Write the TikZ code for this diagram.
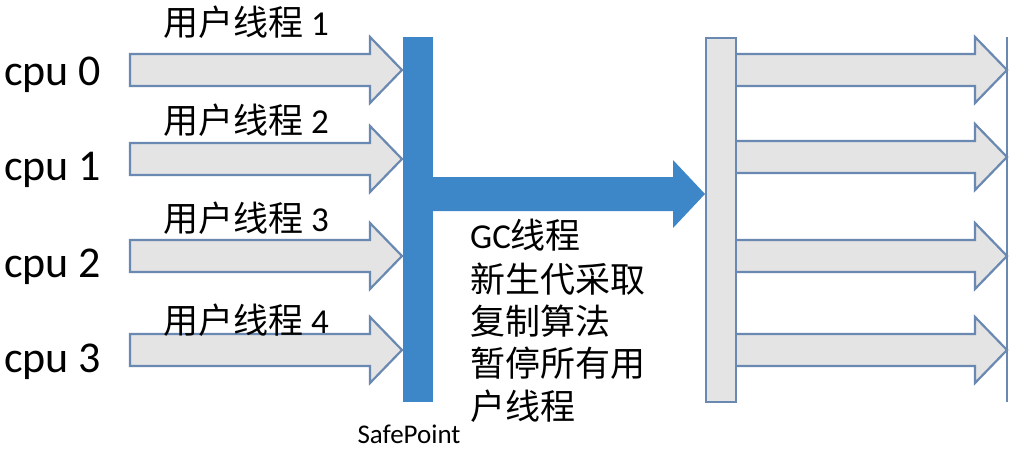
\documentclass[tikz,border=0pt]{standalone}
\usepackage{fontspec}
\setmainfont{Carlito}
\newfontfamily\cjk{Noto Sans CJK SC}
\definecolor{sblue}{RGB}{61,134,200}
\definecolor{agray}{RGB}{228,228,228}
\definecolor{aedge}{RGB}{105,136,178}
\tikzset{
  grayarrow/.style={fill=agray,draw=aedge,line width=2.2pt,line join=miter},
  bluefill/.style={fill=sblue,draw=none},
  cpulabel/.style={anchor=west,inner sep=0pt,font=\fontsize{44}{50}\selectfont},
  thrlabel/.style={anchor=base west,inner sep=0pt,font=\fontsize{35}{40}\selectfont},
  gctext/.style={anchor=base west,inner sep=0pt,font=\fontsize{35}{40}\selectfont\cjk},
}
\begin{document}
\begin{tikzpicture}[x=1pt,y=-1pt]
\useasboundingbox (0,0) rectangle (1025,448);
% left gray arrows
\foreach \y in {70,159,256,350}{
  \draw[grayarrow] (130,\y-16) -- (370,\y-16) -- (370,\y-33) -- (402,\y) -- (370,\y+33) -- (370,\y+16) -- (130,\y+16) -- cycle;
}
% right gray arrows
\foreach \y in {70,157,256,350}{
  \draw[grayarrow] (735,\y-16) -- (975,\y-16) -- (975,\y-33) -- (1007,\y) -- (975,\y+33) -- (975,\y+16) -- (735,\y+16) -- cycle;
}
% safepoint bar
\node[bluefill,minimum width=30pt,minimum height=365pt,inner sep=0pt,anchor=north west] (sp) at (403,37) {};
% right bar
\node[fill=agray,draw=aedge,line width=2.2pt,minimum width=30pt,minimum height=364pt,inner sep=0pt,anchor=north west] (rb) at (705,37) {};
% end line
\coordinate (lt) at (1007,37);
\coordinate (lb) at (1007,402);
\draw[aedge,line width=1.2pt] (lt) -- (lb);
% big blue arrow
\fill[sblue] (433,177) -- (673,177) -- (673,160) -- (705,194) -- (673,228) -- (673,211) -- (433,211) -- cycle;
% cpu labels
\node[cpulabel] (c0) at (4,75) {cpu 0};
\node[cpulabel] (c1) at (4,170) {cpu 1};
\node[cpulabel] (c2) at (4,267) {cpu 2};
\node[cpulabel] (c3) at (4,362) {cpu 3};
% thread labels
\node[thrlabel] (t1) at (163,35) {{\cjk 用户线程} 1};
\node[thrlabel] (t2) at (163,133) {{\cjk 用户线程} 2};
\node[thrlabel] (t3) at (163,231) {{\cjk 用户线程} 3};
\node[thrlabel] (t4) at (163,333) {{\cjk 用户线程} 4};
% GC text
\node[gctext] (g1) at (470,248) {{\fontspec{Carlito}GC}线程};
\node[gctext] (g2) at (470,292) {新生代采取};
\node[gctext] (g3) at (470,334) {复制算法};
\node[gctext] (g4) at (470,376) {暂停所有用};
\node[gctext] (g5) at (470,419) {户线程};
% safepoint label
\node[inner sep=0pt,font=\fontsize{27}{30}\selectfont] (spl) at (409,434) {SafePoint};
\end{tikzpicture}
\end{document}
